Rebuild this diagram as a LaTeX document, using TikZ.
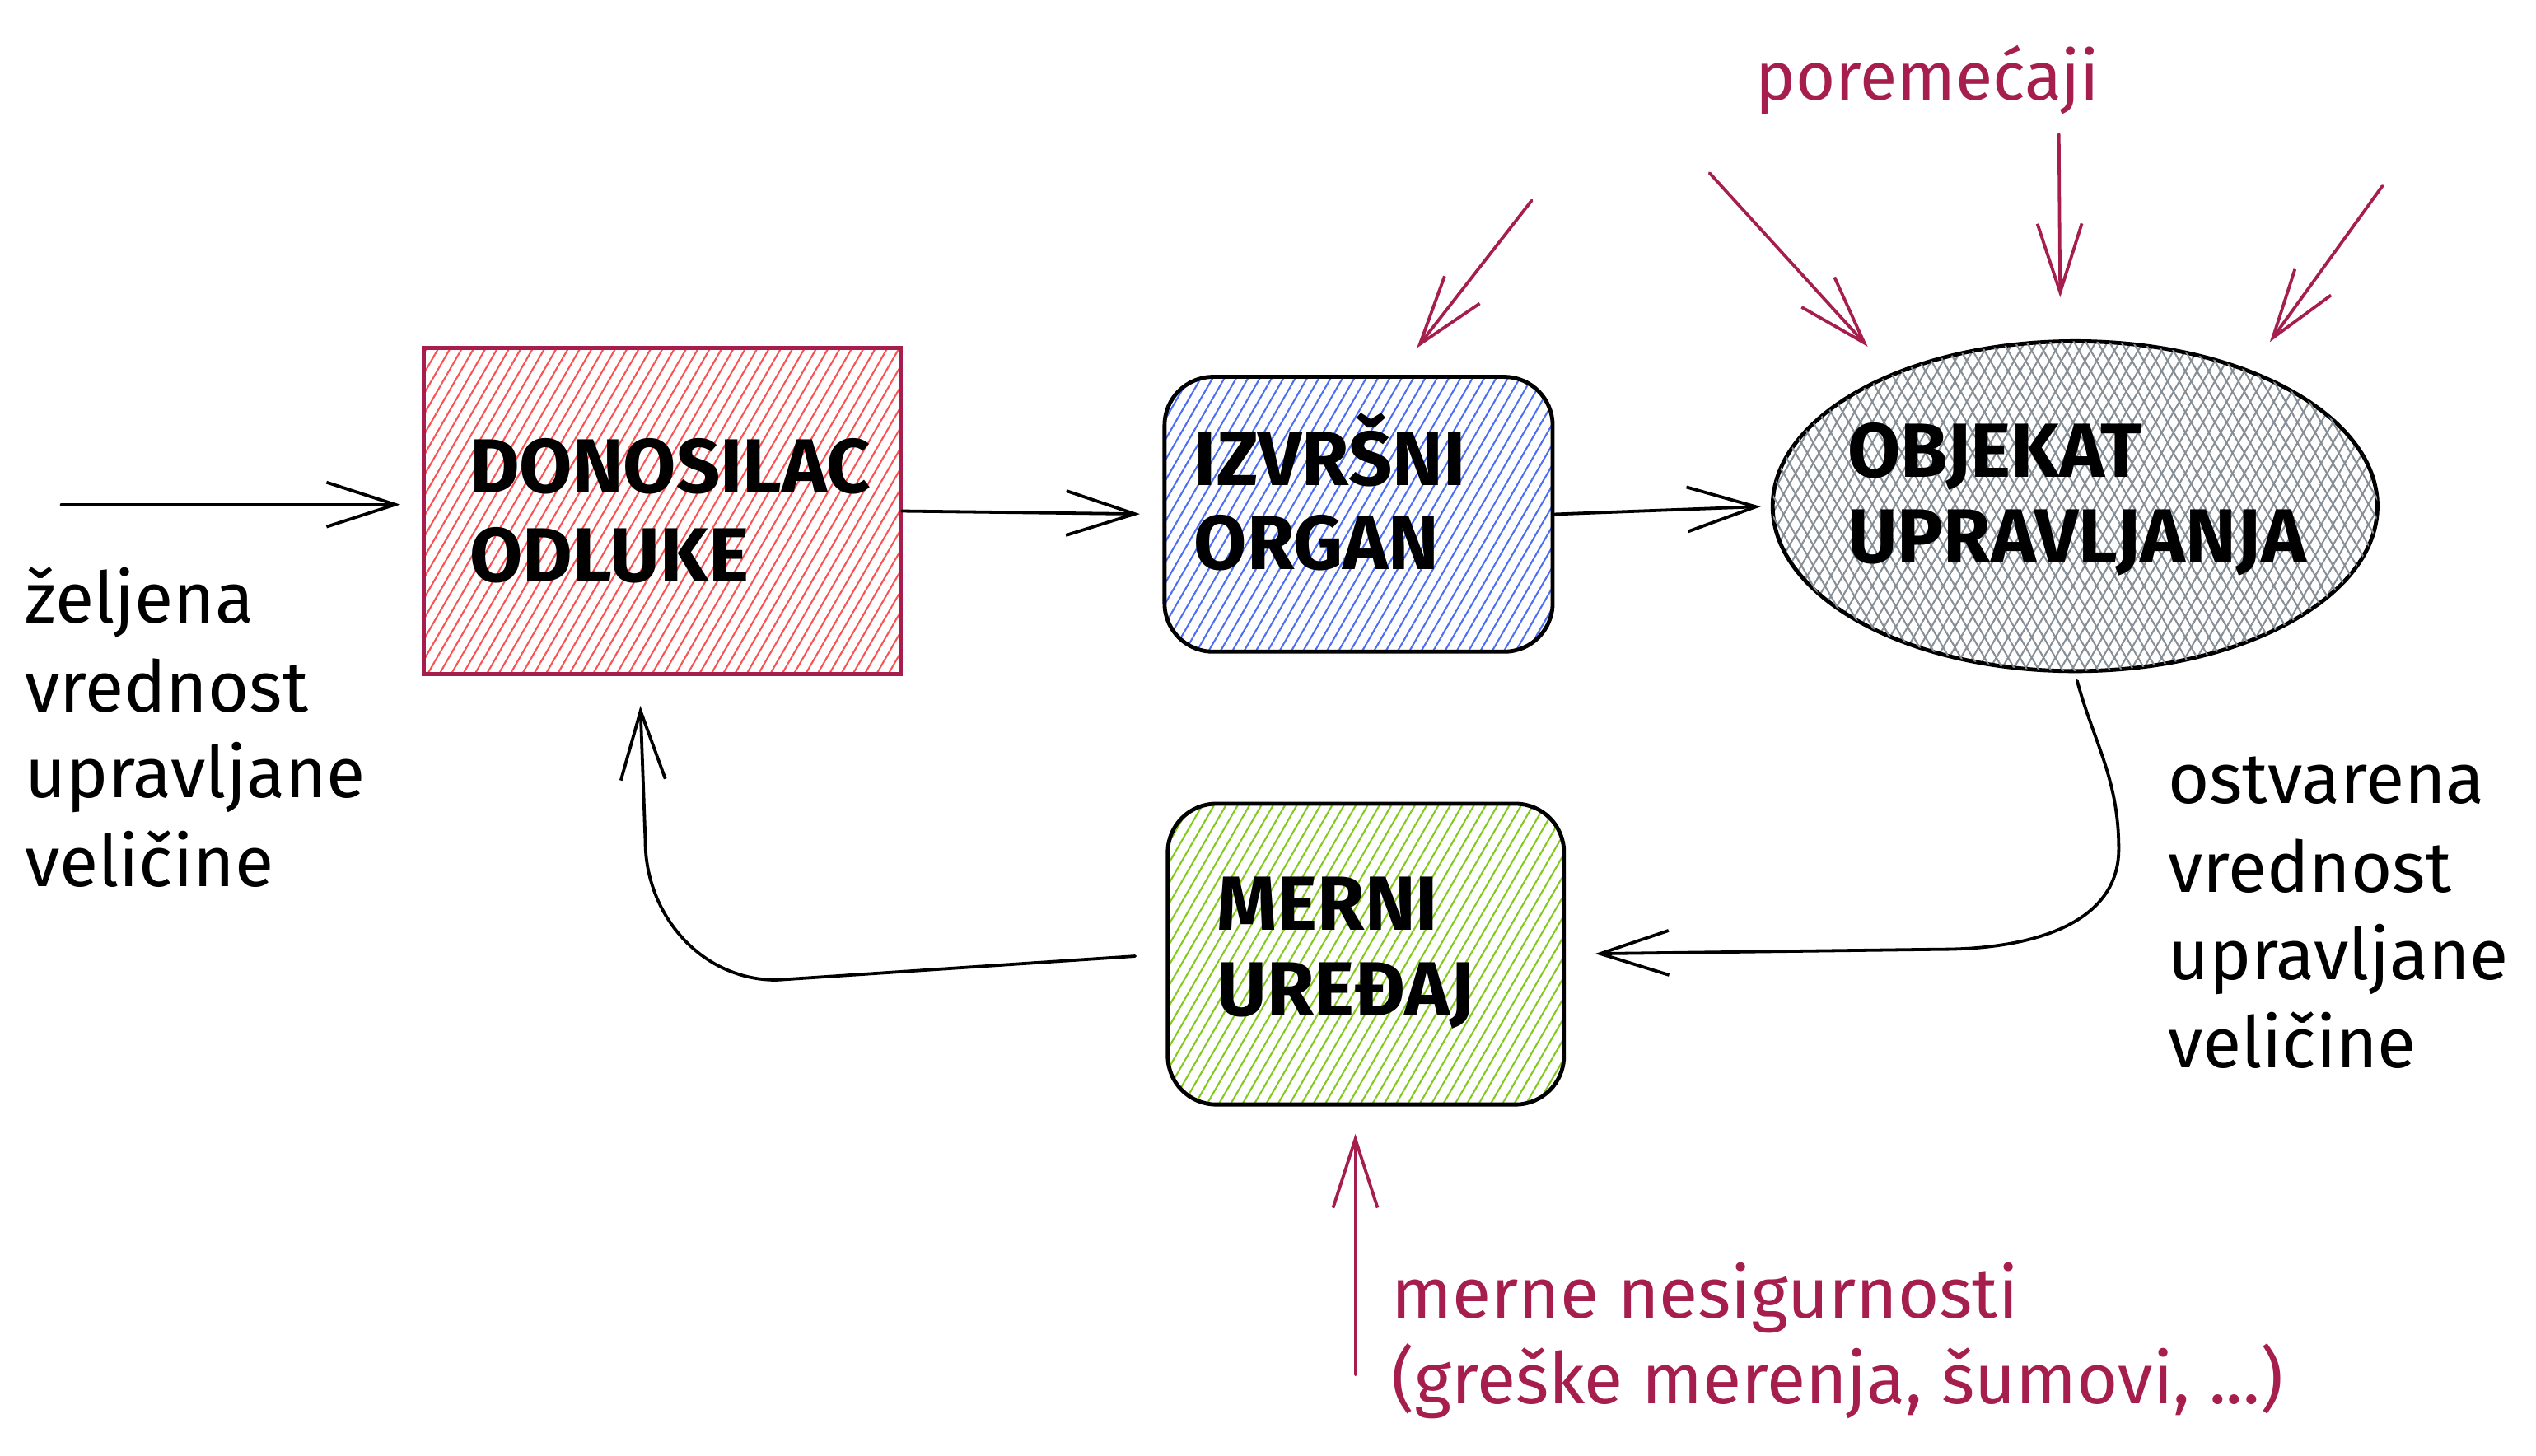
\documentclass[tikz,border=0pt]{standalone}
\usepackage{fontspec}
\setmainfont{Fira Sans}
\usetikzlibrary{arrows.meta,patterns.meta,shapes.geometric}
\definecolor{crim}{HTML}{A61E4D}
\definecolor{hred}{HTML}{FA5252}
\definecolor{hblue}{HTML}{4C6EF5}
\definecolor{hgreen}{HTML}{82C91E}
\definecolor{hgray}{HTML}{868E96}
\begin{document}
\begin{tikzpicture}[x=0.02cm,y=-0.02cm,
  arr/.style={line width=1.1pt,line cap=round,-{Straight Barb[length=0.85cm,width=0.55cm]}},
  carr/.style={arr,draw=crim},
  lbl/.style={font=\fontsize{25}{30}\selectfont,anchor=base west,inner sep=0pt},
  clbl/.style={lbl,text=crim},
  btxt/.style={font=\fontsize{27}{32}\selectfont\bfseries,anchor=base west,inner sep=0pt},
  hatch/.style={pattern={Lines[angle=60,distance=3.6pt,line width=0.6pt]},pattern color=#1},
  redbox/.style={draw=crim,line width=1.4pt,hatch=hred,minimum width=5.9cm,minimum height=4.04cm,inner sep=0pt},
  bluebox/.style={draw=black,line width=1.4pt,rounded corners=0.6cm,hatch=hblue,minimum width=4.8cm,minimum height=3.4cm,inner sep=0pt},
  greenbox/.style={draw=black,line width=1.4pt,rounded corners=0.6cm,hatch=hgreen,minimum width=4.9cm,minimum height=3.72cm,inner sep=0pt},
  grayell/.style={ellipse,draw=black,line width=1.4pt,hatch=hgray,
    postaction={pattern={Lines[angle=120,distance=3.6pt,line width=0.6pt]},pattern color=hgray},
    minimum width=7.48cm,minimum height=4.08cm,inner sep=0pt}
]
\useasboundingbox (0,0) rectangle (1568,900);

% shapes
\node[redbox] (don) at (409.5,316) {};
\node[bluebox] (izv) at (840,318) {};
\node[grayell] (obj) at (1283,313) {};
\node[greenbox] (mer) at (844.5,590) {};

% box texts
\node[btxt] (donA) at (290,305) {DONOSILAC};
\node[btxt] (donB) at (290,360) {ODLUKE};
\node[btxt] (izvA) at (738,300) {IZVRŠNI};
\node[btxt] (izvB) at (738,352) {ORGAN};
\node[btxt] (objA) at (1142,295) {OBJEKAT};
\node[btxt] (objB) at (1142,348) {UPRAVLJANJA};
\node[btxt] (merA) at (752,575) {MERNI};
\node[btxt] (merB) at (752,628) {UREĐAJ};

% free ends
\coordinate (inS) at (38,312);
\coordinate (d1) at (947,124);
\coordinate (d2) at (1057,107);
\coordinate (d3) at (1273,83);
\coordinate (d4) at (1473,115);
\coordinate (n0) at (838,850);

% main connectors
\draw[arr,shorten >=0.28cm] (inS) -- (inS -| don.west);
\draw[arr,shorten >=0.28cm] (don.east) -- (izv.west);
\draw[arr,shorten >=0.12cm] (izv.east) -- (obj.west);
\draw[arr,shorten <=0.1cm,shorten >=0.36cm] (obj.south) to[out=-75,in=90] (1310,525) to[out=-90,in=0] (1200,587) -- (mer.east);
\draw[arr,shorten <=0.38cm,shorten >=0.38cm] (mer.west) -- (480,606) to[out=180,in=-90] (399,520) -- (don.-98);

% disturbances
\draw[carr,shorten >=0.42cm] (d1) -- (izv.75);
\draw[carr,shorten >=0.44cm] (d2) -- (obj.144);
\draw[carr,shorten >=0.52cm] (d3) -- (obj.95);
\draw[carr,shorten >=0.42cm] (d4) -- (obj.38);
\draw[carr,shorten >=0.34cm] (n0) -- (n0 |- mer.south);

% labels
\node[lbl] (zA) at (15,385) {željena};
\node[lbl] (zB) at (15,440) {vrednost};
\node[lbl] (zC) at (15,493) {upravljane};
\node[lbl] (zD) at (15,548) {veličine};
\node[lbl] (oA) at (1340,497) {ostvarena};
\node[lbl] (oB) at (1340,552) {vrednost};
\node[lbl] (oC) at (1340,606) {upravljane};
\node[lbl] (oD) at (1340,660) {veličine};
\node[clbl,font=\fontsize{24}{30}\selectfont] (pA) at (1085,62) {poremećaji};
\node[clbl] (mA) at (860,815) {merne nesigurnosti};
\node[clbl] (mB) at (860,868) {(greške merenja, šumovi, ...)};
\end{tikzpicture}
\end{document}
